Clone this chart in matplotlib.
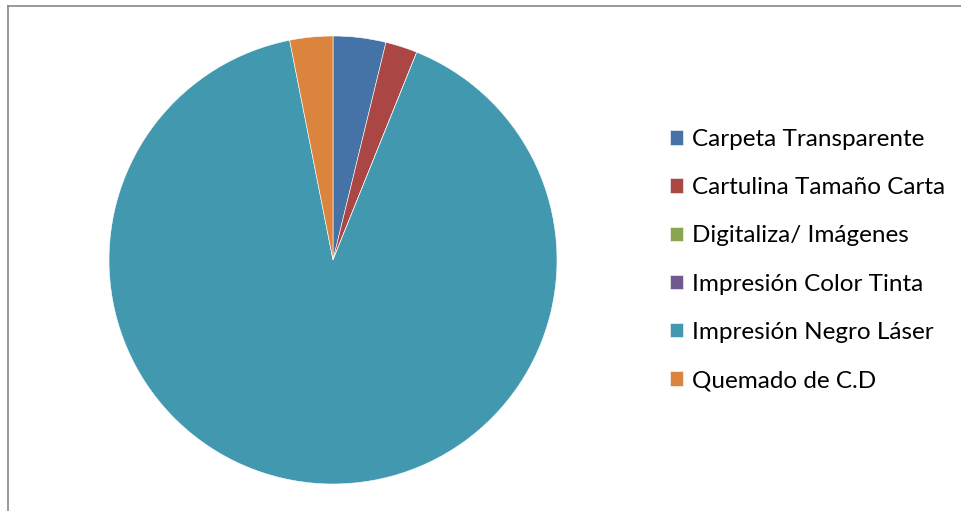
import matplotlib.pyplot as plt
from matplotlib.lines import Line2D

plt.rcParams['font.family'] = ['Lato', 'DejaVu Sans']

labels = ['Carpeta Transparente', 'Cartulina Tamaño Carta', 'Digitaliza/ Imágenes',
          'Impresión Color Tinta', 'Impresión Negro Láser', 'Quemado de C.D']
values = [3.8, 2.3, 0.0, 0.0, 90.8, 3.1]
colors = ['#4572A7', '#AA4643', '#89A54E', '#71588F', '#4198AF', '#DB843D']

W, H = 962, 511
fig = plt.figure(figsize=(W / 100, H / 100), dpi=100)

# pie centre ~ (333, 260) px, radius ~224 px
cx, cy, r = 333, 260, 224
ax = fig.add_axes([(cx - r) / W, 1 - (cy + r) / H, 2 * r / W, 2 * r / H])
wedges, _ = ax.pie(values, colors=colors, startangle=90, counterclock=False,
                   wedgeprops=dict(edgecolor='white', linewidth=0.4))
ax.set_xlim(-1, 1)
ax.set_ylim(-1, 1)
ax.set_aspect('equal')
ax.axis('off')

fig.legend(wedges, labels, loc='center left', bbox_to_anchor=(658 / W, 1 - 260 / H),
           frameon=False, fontsize=17.5, borderpad=0, handlelength=0.54,
           handleheight=0.54, handletextpad=0.37, labelspacing=1.12)

# chart border (only left and top visible)
fig.add_artist(Line2D([8 / W, 8 / W], [0, 1 - 6 / H], transform=fig.transFigure,
                      color='#878787', lw=1.2))
fig.add_artist(Line2D([8 / W, 1], [1 - 6 / H, 1 - 6 / H], transform=fig.transFigure,
                      color='#878787', lw=1.2))

fig.savefig('out.png', dpi=100)
